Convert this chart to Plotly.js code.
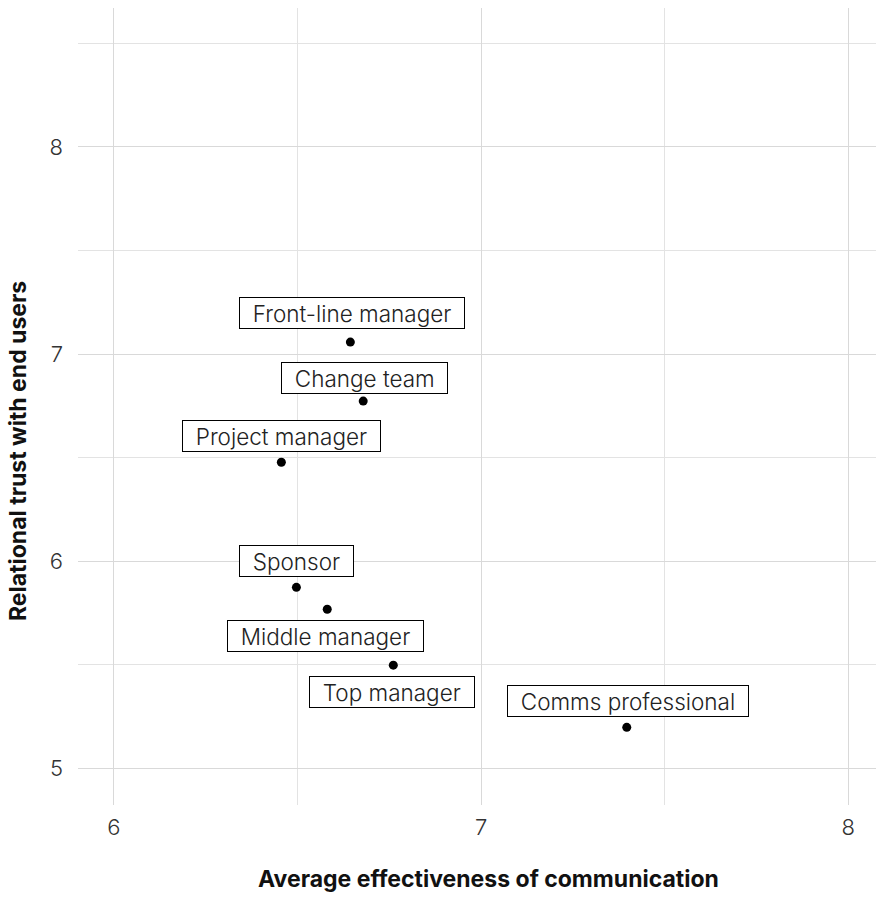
<!DOCTYPE html>
<html>
<head>
<meta charset="utf-8">
<script src="https://cdn.plot.ly/plotly-3.0.1.min.js"></script>
<style>html,body{margin:0;padding:0;background:#fff;}</style>
</head>
<body>
<div id="chart" style="width:876px;height:897px;"></div>
<script>
const roles = ["Front-line manager","Change team","Project manager","Sponsor","Middle manager","Top manager","Comms professional"];
const effectiveness = [6.644, 6.679, 6.456, 6.497, 6.581, 6.761, 7.397];
const trust = [7.058, 6.773, 6.478, 5.874, 5.768, 5.498, 5.198];
const xTickVals = [6, 7, 8];
const yTickVals = [5, 6, 7, 8];
const xTitle = 'Average effectiveness of communication';
const yTitle = 'Relational trust with end users';
// label offsets in pixels (x right, y up) — layout only
const labelShiftX = [2, 1, 0, 0, -2, -1, 1];
const labelShiftY = [29, 23, 26, 26, -27, -27, 26];

const FONT = "Inter, Roboto, 'Noto Sans', sans-serif";

const annotations = roles.map((r, i) => ({
  x: effectiveness[i], y: trust[i], xref: 'x', yref: 'y',
  text: '\u2002' + r + '\u2002', showarrow: false,
  xshift: labelShiftX[i], yshift: labelShiftY[i],
  font: {family: FONT, size: 22.5, color: '#222', weight: 300},
  bgcolor: '#fff', bordercolor: '#000', borderwidth: 1, borderpad: 1.5
}));

annotations.push({
  xref: 'paper', yref: 'paper', x: (488 - 78) / 798, y: (805 - 879) / 797,
  xanchor: 'center', yanchor: 'middle', showarrow: false,
  text: xTitle, font: {family: FONT, size: 23, color: '#111', weight: 700}
});
annotations.push({
  xref: 'paper', yref: 'paper', x: (18 - 78) / 798, y: (805 - 451) / 797,
  xanchor: 'center', yanchor: 'middle', showarrow: false, textangle: -90,
  text: yTitle, font: {family: FONT, size: 23, color: '#111', weight: 700}
});

const trace = {
  x: effectiveness, y: trust, type: 'scatter', mode: 'markers',
  marker: {color: '#000', size: 9},
  hoverinfo: 'skip'
};

const layout = {
  width: 876, height: 897,
  margin: {l: 78, r: 0, t: 8, b: 92},
  paper_bgcolor: '#fff', plot_bgcolor: '#fff',
  showlegend: false,
  font: {family: FONT, color: '#333'},
  xaxis: {
    range: [5.902, 8.076], tickvals: xTickVals, ticktext: xTickVals.map(String),
    showgrid: true, gridcolor: '#d9d9d9', gridwidth: 1,
    minor: {tickvals: [6.5, 7.5], showgrid: true, gridcolor: '#e3e3e3', gridwidth: 1},
    zeroline: false, showline: false, ticks: '', ticklabelstandoff: 7,
    tickfont: {family: FONT, size: 22, color: '#333', weight: 300}
  },
  yaxis: {
    range: [4.823, 8.671], tickvals: yTickVals, ticktext: yTickVals.map(String),
    showgrid: true, gridcolor: '#d9d9d9', gridwidth: 1,
    minor: {tickvals: [5.5, 6.5, 7.5, 8.5], showgrid: true, gridcolor: '#e3e3e3', gridwidth: 1},
    zeroline: false, showline: false, ticks: '', ticklabelstandoff: 14,
    tickfont: {family: FONT, size: 22, color: '#333', weight: 300}
  },
  annotations: annotations
};

Plotly.newPlot('chart', [trace], layout, {displayModeBar: false, staticPlot: true});
</script>
</body>
</html>
